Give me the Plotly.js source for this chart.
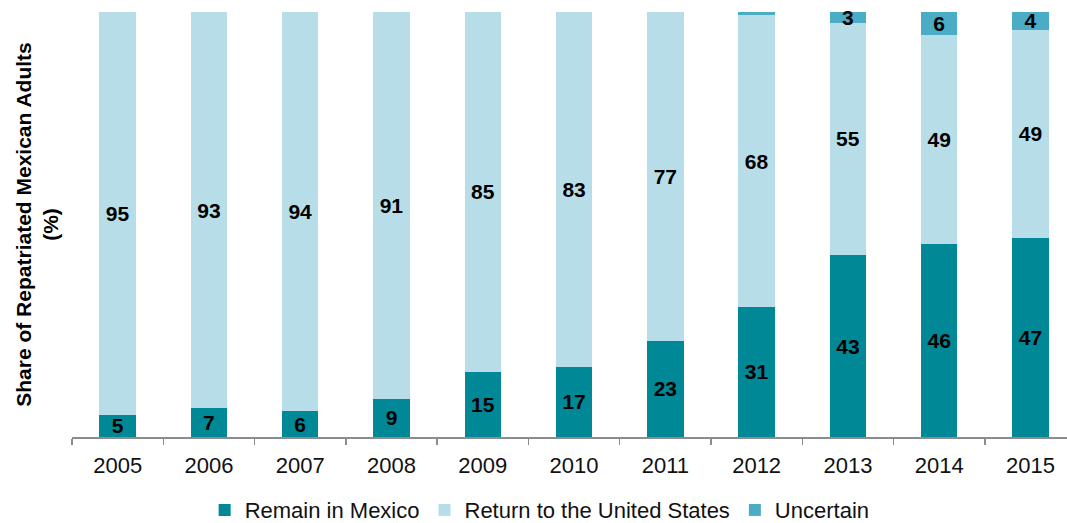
<!DOCTYPE html>
<html>
<head>
<meta charset="utf-8">
<script src="https://cdn.plot.ly/plotly-3.0.1.min.js"></script>
<style>html,body{margin:0;padding:0;overflow:hidden;background:#fff}</style>
</head>
<body>
<div id="chart" style="width:1067px;height:523px"></div>
<script>
const years = ['2005','2006','2007','2008','2009','2010','2011','2012','2013','2014','2015'];
// segment sizes (%)
const remainInMexico = [5.2, 6.8, 6.1, 9.0, 15.4, 16.5, 22.7, 30.6, 42.8, 45.4, 46.8];
const returnToUS     = [94.8, 93.2, 93.9, 91.0, 84.6, 83.5, 77.3, 68.6, 54.7, 49.2, 49.0];
const uncertain      = [0, 0, 0, 0, 0, 0, 0, 0.8, 2.5, 5.4, 4.2];
// printed labels
const remainLabels    = ['5','7','6','9','15','17','23','31','43','46','47'];
const returnLabels    = ['95','93','94','91','85','83','77','68','55','49','49'];
const uncertainLabels = ['','','','','','','','','3','6','4'];

const labelFont = {family: 'Liberation Sans, Arial, sans-serif', size: 21, color: '#000'};

function series(name, y, text, color) {
  return {
    type: 'bar', name: name, x: years, y: y, text: text,
    textposition: 'inside', insidetextanchor: 'middle', textangle: 0,
    textfont: labelFont, insidetextfont: labelFont,
    texttemplate: '<b>%{text}</b>',
    constraintext: 'none', cliponaxis: false,
    marker: {color: color, line: {width: 0}},
    hoverinfo: 'skip'
  };
}

const data = [
  series('Remain in Mexico', remainInMexico, remainLabels, '#008896'),
  series('Return to the United States', returnToUS, returnLabels, '#b7dee8'),
  series('Uncertain', uncertain, uncertainLabels, '#4bacc6')
];

const layout = {
  width: 1067, height: 523,
  margin: {l: 72, r: 0, t: 12, b: 86, autoexpand: false},
  paper_bgcolor: '#fff', plot_bgcolor: '#fff',
  barmode: 'stack', bargap: 0.6,
  font: {family: 'Liberation Sans, Arial, sans-serif', color: '#000'},
  xaxis: {
    type: 'category', range: [-0.5, 10.4], automargin: false,
    showline: true, linecolor: '#8c8c8c', linewidth: 1.5,
    ticks: 'outside', tickson: 'boundaries', ticklen: 6, tickcolor: '#8c8c8c', tickwidth: 1.5,
    tickfont: {size: 22, color: '#111'}, ticklabelstandoff: 8,
    showgrid: false, zeroline: false, fixedrange: true
  },
  yaxis: {
    range: [0, 100], showticklabels: false, ticks: '', showgrid: false,
    zeroline: false, showline: false, fixedrange: true, automargin: false,
    title: {
      text: '<b>Share of Repatriated Mexican Adults<br>(%)</b>',
      font: {size: 21, color: '#000', family: 'Liberation Sans, Arial, sans-serif'}
    }
  },
  showlegend: true,
  legend: {
    orientation: 'h', x: 0.47, xanchor: 'center', y: -0.172, yanchor: 'middle',
    font: {size: 22, color: '#111'}, traceorder: 'normal'
  }
};

Plotly.newPlot('chart', data, layout, {displayModeBar: false, staticPlot: true});
</script>
</body>
</html>
